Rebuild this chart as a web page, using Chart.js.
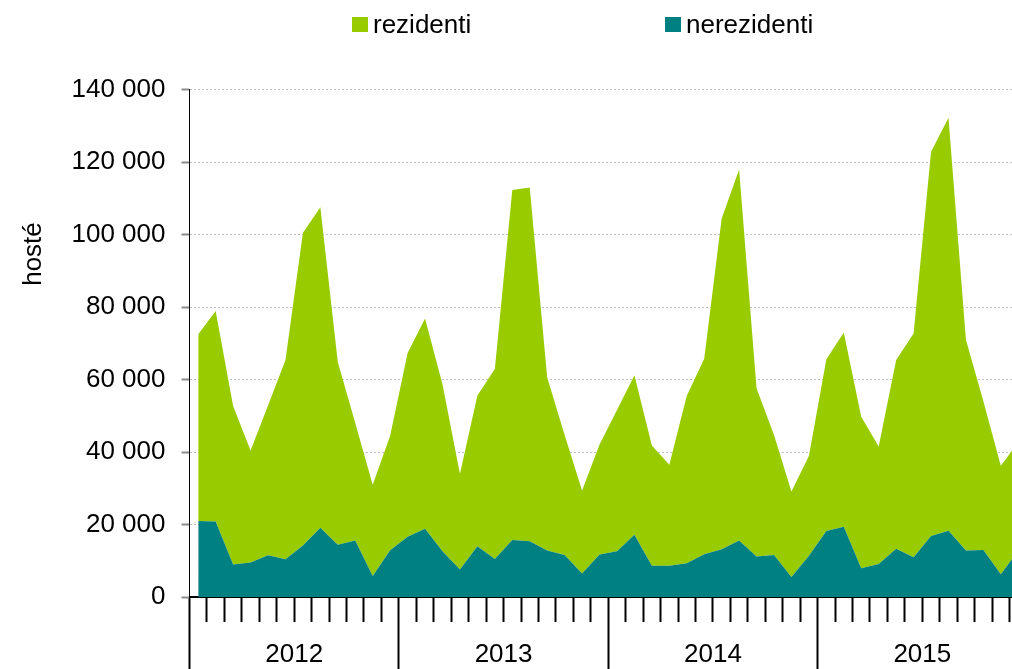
<!DOCTYPE html>
<html>
<head>
<meta charset="utf-8">
<script src="https://cdn.jsdelivr.net/npm/chart.js@4"></script>
<style>
  html, body { margin: 0; padding: 0; background: #fff; }
  #wrap { position: relative; width: 1012px; height: 669px; overflow: hidden; }
  #c { position: absolute; left: 0; top: 0; }
  .lg { position: absolute; top: 9px; height: 30px; line-height: 30px; font-family: "Liberation Sans", Arial, sans-serif; font-size: 26px; color: #000; white-space: nowrap; }
  .lg i { position: absolute; left: 0; top: 8px; width: 16px; height: 15px; }
  .lg span { position: absolute; left: 21px; top: 0; }
</style>
</head>
<body>
<div id="wrap">
  <canvas id="c" width="1040" height="700"></canvas>
</div>
<script>
// ---- data ----
const months = [
  '2012-01','2012-02','2012-03','2012-04','2012-05','2012-06','2012-07','2012-08','2012-09','2012-10','2012-11','2012-12',
  '2013-01','2013-02','2013-03','2013-04','2013-05','2013-06','2013-07','2013-08','2013-09','2013-10','2013-11','2013-12',
  '2014-01','2014-02','2014-03','2014-04','2014-05','2014-06','2014-07','2014-08','2014-09','2014-10','2014-11','2014-12',
  '2015-01','2015-02','2015-03','2015-04','2015-05','2015-06','2015-07','2015-08','2015-09','2015-10','2015-11','2015-12'
];
const years = ['2012', '2013', '2014', '2015'];

const nerezidenti = [
  21000, 20800, 9000, 9500, 11500, 10400, 14200, 19100, 14400, 15600, 5800, 12900,
  16600, 18800, 12600, 7600, 14000, 10500, 15700, 15400, 12800, 11600, 6500, 11700,
  12600, 17200, 8600, 8600, 9300, 11800, 13200, 15600, 11200, 11600, 5500, 11400,
  18200, 19400, 7900, 9100, 13300, 11000, 16800, 18300, 12800, 13000, 6300, 12800
];
const rezidenti = [
  51500, 58100, 43700, 30900, 41300, 55000, 86300, 88400, 50400, 32400, 25200, 31600,
  50700, 58000, 46100, 26400, 41600, 52400, 96600, 97600, 47800, 33100, 22900, 30400,
  39000, 44000, 33200, 27900, 46200, 53900, 91200, 102300, 46400, 33100, 23600, 27500,
  47400, 53600, 41800, 32400, 52100, 61700, 106000, 113900, 58200, 41000, 29900, 29900
];

const seriesNames = ['rezidenti', 'nerezidenti'];
const seriesColors = ['#99cc00', '#008080'];
const yAxisTitle = 'hosté';

const FONT = '"Liberation Sans", Arial, sans-serif';

function fmt(v) {
  return String(v).replace(/\B(?=(\d{3})+(?!\d))/g, ' ');
}

const yTitlePlugin = {
  id: 'yTitle',
  afterDraw(chart) {
    const ctx = chart.ctx;
    ctx.save();
    ctx.translate(41, 254);
    ctx.rotate(-Math.PI / 2);
    ctx.font = '26px ' + FONT;
    ctx.fillStyle = '#000';
    ctx.textAlign = 'center';
    ctx.textBaseline = 'alphabetic';
    ctx.fillText(yAxisTitle, 0, 0);
    ctx.restore();
  }
};

const chart = new Chart(document.getElementById('c'), {
  type: 'line',
  data: {
    labels: months,
    datasets: [
      {
        label: seriesNames[1],
        data: nerezidenti,
        backgroundColor: seriesColors[1],
        borderColor: 'rgba(0,0,0,0)',
        borderWidth: 0,
        pointRadius: 0,
        fill: 'origin',
        tension: 0
      },
      {
        label: seriesNames[0],
        data: rezidenti,
        backgroundColor: seriesColors[0],
        borderColor: 'rgba(0,0,0,0)',
        borderWidth: 0,
        pointRadius: 0,
        fill: '-1',
        tension: 0
      }
    ]
  },
  options: {
    responsive: false,
    animation: false,
    devicePixelRatio: 1,
    layout: { padding: { top: 89.5, left: 0, right: 13, bottom: 18 } },
    plugins: { legend: { display: false }, tooltip: { enabled: false } },
    elements: { line: { borderWidth: 0 } },
    scales: {
      x: {
        type: 'category',
        position: 'bottom',
        weight: 0,
        offset: true,
        ticks: { display: false },
        grid: {
          display: true, offset: true, drawOnChartArea: false, drawTicks: true,
          tickLength: 25, tickColor: '#000', tickWidth: 2,
          tickBorderDash: []
        },
        border: { display: true, color: '#000', width: 2 },
        afterFit(s) { s.height = 25; }
      },
      x2: {
        type: 'category',
        position: 'bottom',
        weight: 1,
        labels: years,
        offset: true,
        ticks: { display: true, color: '#000', font: { family: FONT, size: 26 }, padding: -43, maxRotation: 0, autoSkip: false },
        grid: {
          display: true, offset: true, drawOnChartArea: false, drawTicks: true,
          tickLength: 60, tickColor: '#000', tickWidth: 2,
          tickBorderDash: []
        },
        border: { display: false },
        afterFit(s) { s.height = 60; }
      },
      y: {
        stacked: true,
        min: 0,
        max: 140000,
        ticks: {
          stepSize: 20000,
          color: '#000',
          font: { family: FONT, size: 26 },
          padding: 16,
          callback: (v) => fmt(v)
        },
        grid: {
          color: '#c0c0c0', lineWidth: 1,
          tickColor: '#8c8c8c', tickWidth: 2, tickLength: 8,
          tickBorderDash: []
        },
        border: { display: true, color: '#000', width: 1, dash: [2, 2] },
        afterFit(s) { s.width = 189.5; }
      }
    }
  },
  plugins: [yTitlePlugin]
});

// HTML legend built from the chart's datasets (order: rezidenti, nerezidenti)
const legendLeft = [352, 665];
const wrap = document.getElementById('wrap');
seriesNames.forEach((name, i) => {
  const ds = chart.data.datasets.find(d => d.label === name);
  const item = document.createElement('div');
  item.className = 'lg';
  item.style.left = legendLeft[i] + 'px';
  const box = document.createElement('i');
  box.style.background = ds.backgroundColor;
  const txt = document.createElement('span');
  txt.textContent = ds.label;
  item.appendChild(box);
  item.appendChild(txt);
  wrap.appendChild(item);
});
</script>
</body>
</html>
